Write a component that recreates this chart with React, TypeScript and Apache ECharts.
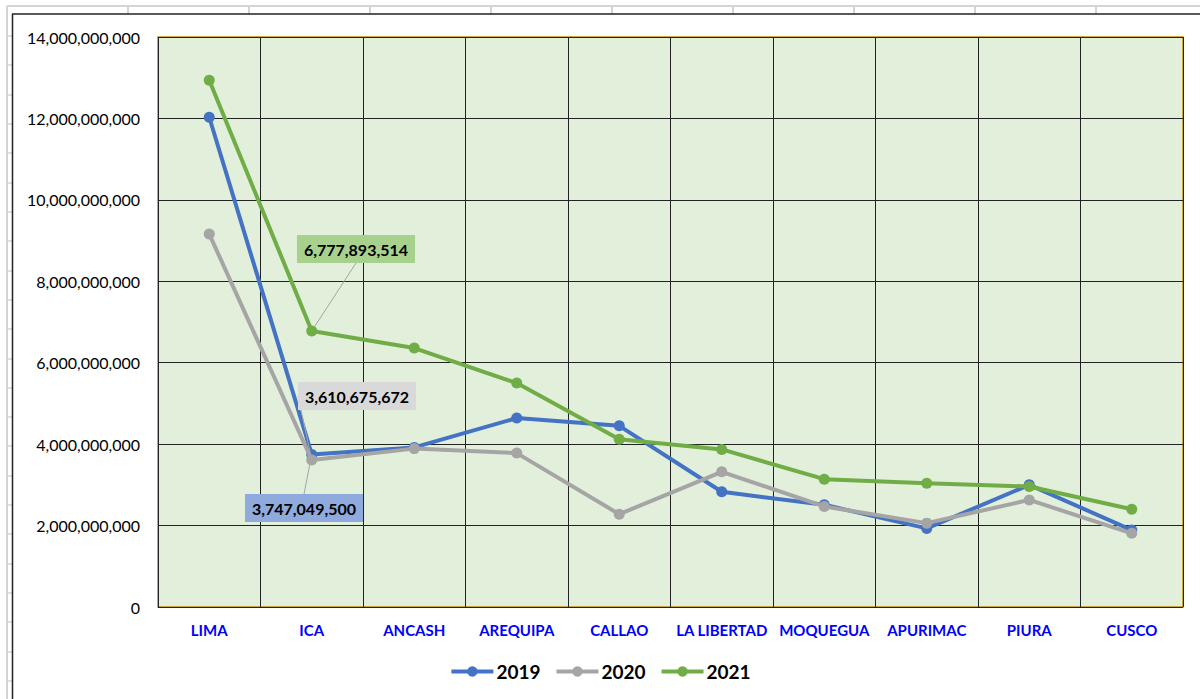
import React, { useEffect, useRef } from "react";
import * as echarts from "echarts";

const categories = ["LIMA", "ICA", "ANCASH", "AREQUIPA", "CALLAO", "LA LIBERTAD", "MOQUEGUA", "APURIMAC", "PIURA", "CUSCO"];
const seriesNames = ["2019", "2020", "2021"];
const values2019 = [12030000000, 3747049500, 3920000000, 4640000000, 4450000000, 2830000000, 2510000000, 1930000000, 3000000000, 1890000000];
const values2020 = [9160000000, 3610675672, 3890000000, 3780000000, 2280000000, 3320000000, 2470000000, 2060000000, 2630000000, 1810000000];
const values2021 = [12940000000, 6777893514, 6360000000, 5500000000, 4120000000, 3870000000, 3140000000, 3040000000, 2960000000, 2400000000];
const yTicks = { min: 0, max: 14000000000, interval: 2000000000 };
const labelledIndex = 1;

const colors = ["#4472C4", "#A5A5A5", "#70AD47"];
const labelBg = ["#8FAADC", "#D9D9D9", "#A9D18E"];
const labelPos = [
  { x: 304, y: 508 },
  { x: 357, y: 396 },
  { x: 356, y: 249 },
];

const fmt = (v: number) => v.toLocaleString("en-US");

export default function App() {
  const ref = useRef<HTMLDivElement>(null);
  useEffect(() => {
    if (!ref.current) return;
    const chart = echarts.init(ref.current, null, { renderer: "svg" });
    const all = [values2019, values2020, values2021];

    const gfx: any[] = [];
    const gray = "#D4D4D4";
    gfx.push({ type: "line", shape: { x1: 7, y1: 6, x2: 1200, y2: 6 }, style: { stroke: gray, lineWidth: 2 } });
    for (let x = 128; x < 1200; x += 121) {
      gfx.push({ type: "line", shape: { x1: x, y1: 6, x2: x, y2: 14 }, style: { stroke: gray, lineWidth: 2 } });
    }
    gfx.push({ type: "line", shape: { x1: 7, y1: 6, x2: 7, y2: 699 }, style: { stroke: gray, lineWidth: 2 } });
    for (let k = 0; k < 23; k++) {
      const y = Math.round(36 + 29.32 * k);
      gfx.push({ type: "line", shape: { x1: 7, y1: y, x2: 12, y2: y }, style: { stroke: gray, lineWidth: 1.5 } });
    }
    gfx.push({ type: "line", shape: { x1: 12, y1: 14, x2: 1200, y2: 14 }, style: { stroke: "#222", lineWidth: 1.5 } });
    gfx.push({ type: "line", shape: { x1: 12.5, y1: 14, x2: 12.5, y2: 699 }, style: { stroke: "#222", lineWidth: 1.5 } });

    chart.setOption({
      animation: false,
      color: colors,
      textStyle: { fontFamily: "Lato" },
      graphic: gfx,
      grid: {
        left: 158,
        right: 17,
        top: 37,
        bottom: 92,
        show: true,
        backgroundColor: "#E2EFDA",
        borderColor: "#BF9000",
        borderWidth: 1.5,
      },
      legend: {
        data: seriesNames,
        bottom: 13,
        left: "center",
        itemWidth: 42,
        itemHeight: 13,
        itemGap: 14,
        lineStyle: { width: 4 },
        textStyle: { fontFamily: "Lato", fontWeight: "bold", fontSize: 19, color: "#000", padding: [0, 0, 0, -2] },
      },
      xAxis: {
        type: "category",
        data: categories,
        boundaryGap: true,
        axisLine: { show: false },
        axisTick: { show: false },
        splitLine: { show: true, lineStyle: { color: "#222", width: 1 } },
        axisLabel: {
          interval: 0,
          color: "#0000FF",
          fontWeight: "bold",
          fontSize: 15,
          fontFamily: "Lato",
          margin: 15,
        },
      },
      yAxis: {
        type: "value",
        min: yTicks.min,
        max: yTicks.max,
        interval: yTicks.interval,
        axisLine: { show: false },
        axisTick: { show: false },
        splitLine: { show: true, lineStyle: { color: "#222", width: 1 } },
        axisLabel: {
          color: "#000",
          fontSize: 16,
          fontFamily: "Lato",
          margin: 18,
          formatter: (v: number) => fmt(v),
        },
      },
      series: all.map((vals, si) => ({
        name: seriesNames[si],
        type: "line",
        data: vals.map((v, i) =>
          i === labelledIndex
            ? {
                value: v,
                label: {
                  show: true,
                  formatter: (p: any) => fmt(p.value),
                  backgroundColor: labelBg[si],
                  padding: [6, 7],
                  color: "#000",
                  fontWeight: "bold",
                  fontSize: 16,
                  fontFamily: "Lato",
                },
                labelLine: { show: true, lineStyle: { color: "#A5A5A5", width: 1 } },
              }
            : v
        ),
        symbol: "circle",
        symbolSize: 11,
        lineStyle: { width: 4, color: colors[si] },
        itemStyle: { color: colors[si] },
        label: { show: false },
        labelLine: { show: true, lineStyle: { color: "#A5A5A5", width: 1 } },
        labelLayout: (params: any) =>
          params.dataIndex === labelledIndex
            ? { x: labelPos[si].x, y: labelPos[si].y, align: "center", verticalAlign: "middle" }
            : {},
        z: 2 + si,
      })),
    });
    return () => chart.dispose();
  }, []);
  return (
    <div
      ref={ref}
      style={{ position: "fixed", left: 0, top: 0, width: 1200, height: 699, background: "#fff" }}
    />
  );
}
